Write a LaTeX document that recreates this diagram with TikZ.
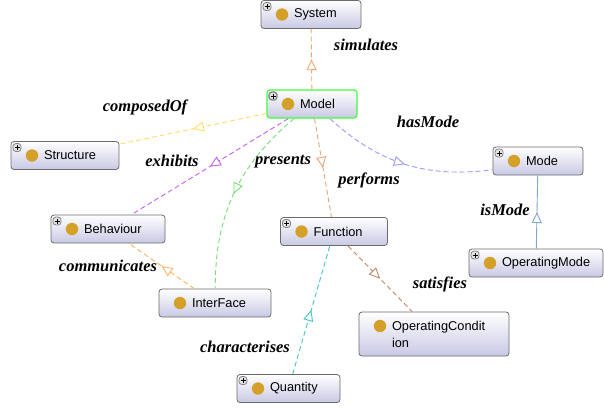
\documentclass[tikz,border=0pt]{standalone}
\usepackage{fontspec}
\setmainfont{Liberation Serif}
\setsansfont{Liberation Sans}
\usepackage{xcolor}
\usetikzlibrary{arrows.meta,decorations.markings}
\definecolor{dotc}{HTML}{D4A02A}
\definecolor{boxb}{HTML}{C8C9E4}
\definecolor{simc}{HTML}{F5A56E}
\definecolor{compc}{HTML}{FFDD66}
\definecolor{exhc}{HTML}{C860F0}
\definecolor{prec}{HTML}{77DD77}
\definecolor{perc}{HTML}{E6A474}
\definecolor{hasc}{HTML}{9A9AFF}
\definecolor{isc}{HTML}{7FA7CF}
\definecolor{comc}{HTML}{FFB266}
\definecolor{satc}{HTML}{C08868}
\definecolor{chac}{HTML}{44C4C4}
\def\dotpic{\fill[dotc] ([shift={(21pt,-14pt)}]path picture bounding box.north west) circle (6.2pt);}
\def\pluspic{\draw[gray,fill=gray!20] ([shift={(2pt,-2pt)}]path picture bounding box.north west) rectangle ++(8pt,-8pt);
  \draw[black,line width=0.6pt] ([shift={(3.5pt,-6pt)}]path picture bounding box.north west) -- ++(5pt,0pt)
  ([shift={(6pt,-3.5pt)}]path picture bounding box.north west) -- ++(0pt,-5pt);}
\def\cls#1#2#3#4{\node[#3] (#1) at (#2) {#4}}
\tikzstyle{cls}=[draw=black!58,line width=0.8pt,rounded corners=3pt,top color=white,bottom color=boxb,
  minimum height=28pt,inner xsep=4pt,align=left,font=\sffamily\fontsize{12.8}{17}\selectfont,
  execute at begin node={\leftskip=29pt},path picture={\dotpic}]
\tikzstyle{clsp}=[cls,path picture={\dotpic\pluspic}]
\tikzstyle{lbl}=[font=\fontsize{16.5}{19}\selectfont\bfseries\itshape]
\tikzstyle{rel}=[line width=0.9pt,dash pattern=on 5pt off 3pt,
  decoration={markings,mark=at position 0.5 with {\arrow{Triangle[length=11pt,width=10pt,fill=white,line width=0.9pt]}}},
  postaction={decorate}]

\begin{document}
\begin{tikzpicture}[x=1pt,y=-1pt]
    \useasboundingbox (0,0) rectangle (604,408);
    % classes
    \cls{system}{311,14.5}{clsp,text width=92pt}{System};
    \cls{model}{312,104}{clsp,text width=82pt,draw=green!75!white,line width=1.2pt}{Model};
    \cls{structure}{65,155.5}{clsp,text width=100pt}{Structure};
    \cls{behaviour}{108,229}{clsp,text width=106pt}{Behaviour};
    \cls{interface}{215,303}{cls,text width=104pt}{InterFace};
    \cls{function}{334,231.5}{clsp,text width=99pt}{Function};
    \cls{mode}{538,161}{clsp,text width=82pt}{Mode};
    \cls{opmode}{536,263}{clsp,text width=126pt}{OperatingMode};
    \cls{opcond}{434,334}{cls,text width=142pt,minimum height=44pt}{OperatingCondit\\ion};
    \cls{quantity}{288.5,388.5}{clsp,text width=95pt}{Quantity};
    % relations
    \draw[rel,simc] (model) -- (system);
    \draw[rel,compc] (model) -- (structure);
    \draw[rel,exhc] (model) -- (behaviour);
    \draw[rel,prec] (model) to[bend right=25] (interface);
    \draw[rel,perc] (model) -- (function);
    \draw[rel,hasc] (model) to[bend right=25] (mode);
    \draw[rel,isc,solid] (opmode) -- (mode);
    \draw[rel,comc] (interface) -- (behaviour);
    \draw[rel,satc] (function) -- (opcond);
    \draw[rel,chac] (quantity) -- (function);
    % labels
    \node[lbl] (lsim) at (366,45) {simulates};
    \node[lbl] (lcomp) at (145,107) {composedOf};
    \node[lbl] (lexh) at (172,161) {exhibits};
    \node[lbl] (lpre) at (283,162) {presents};
    \node[lbl] (lper) at (369,180) {performs};
    \node[lbl] (lhas) at (428,122) {hasMode};
    \node[lbl] (lis) at (505,210) {isMode};
    \node[lbl] (lcom) at (108,266) {communicates};
    \node[lbl] (lsat) at (440,284) {satisfies};
    \node[lbl] (lcha) at (245,347) {characterises};
\end{tikzpicture}
\end{document}
